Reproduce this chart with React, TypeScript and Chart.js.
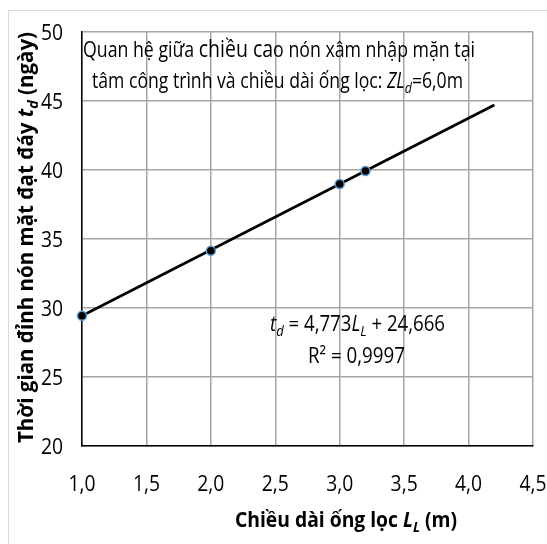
import React, { useEffect, useRef } from 'react';
import { Chart, registerables } from 'chart.js';

Chart.register(...registerables);

// Measured filter lengths L_L (m) and time to reach the bottom t_d (days)
const filterLengths = [1.0, 2.0, 3.0, 3.2];
const daysToBottom = [29.44, 34.14, 38.98, 39.93];

// Linear trend reported on the chart: t_d = 4,773 L_L + 24,666
const trendSlope = 4.773;
const trendIntercept = 24.666;
const trendFrom = 1.0;
const trendTo = 4.2;

// Axis ticks
const xTickValues = [1.0, 1.5, 2.0, 2.5, 3.0, 3.5, 4.0, 4.5];
const yTickValues = [20, 25, 30, 35, 40, 45, 50];

const FONT = '"Open Sans", Lato, sans-serif';
const BASE = 21;

type Run = { text: string; italic?: boolean; bold?: boolean; size?: number; shift?: number };

function runFont(r: Run) {
  return `${r.italic ? 'italic' : 'normal'} ${r.bold ? 'bold' : 'normal'} ${BASE * (r.size || 1)}px ${FONT}`;
}

function runsWidth(ctx: CanvasRenderingContext2D, runs: Run[]) {
  let w = 0;
  for (const r of runs) {
    ctx.font = runFont(r);
    w += ctx.measureText(r.text).width;
  }
  return w;
}

// Draws a line of mixed-style text; squeezed horizontally either by a fixed
// factor or so that it spans the given width.
function drawRuns(
  ctx: CanvasRenderingContext2D,
  runs: Run[],
  x: number,
  y: number,
  opts: { width?: number; squeeze?: number; align?: 'left' | 'center' | 'right' }
) {
  const w = runsWidth(ctx, runs);
  const k = opts.width ? opts.width / w : opts.squeeze || 1;
  const total = w * k;
  let left = x;
  if (opts.align === 'center') left = x - total / 2;
  if (opts.align === 'right') left = x - total;
  ctx.save();
  ctx.translate(left, y);
  ctx.scale(k, 1);
  ctx.textBaseline = 'alphabetic';
  ctx.textAlign = 'left';
  ctx.fillStyle = '#000';
  let cx = 0;
  for (const r of runs) {
    ctx.font = runFont(r);
    ctx.fillText(r.text, cx, r.shift || 0);
    cx += ctx.measureText(r.text).width;
  }
  ctx.restore();
}

const SUB = 0.7;
const SUB_SHIFT = 5;

const titleLine1: Run[] = [
  { text: 'Quan hệ giữa ' },
  { text: 'chiều ca', size: 1.1 },
  { text: 'o nón xâm nhập mặn tại' },
];
const titleLine2: Run[] = [
  { text: 'tâm công trình và chiều dài ống lọc: ' },
  { text: 'ZL', italic: true },
  { text: 'd', italic: true, size: SUB, shift: SUB_SHIFT },
  { text: '=6,0m' },
];
const equationLine: Run[] = [
  { text: 't', italic: true },
  { text: 'd', italic: true, size: SUB, shift: SUB_SHIFT },
  { text: ' = 4,773' },
  { text: 'L', italic: true },
  { text: 'L', italic: true, size: SUB, shift: SUB_SHIFT },
  { text: ' + 24,666' },
];
const r2Line: Run[] = [{ text: 'R² = 0,9997' }];
const xTitle: Run[] = [
  { text: 'Chiều dài ống lọc ', bold: true },
  { text: 'L', bold: true, italic: true },
  { text: 'L', bold: true, italic: true, size: SUB, shift: SUB_SHIFT },
  { text: ' (m)', bold: true },
];
const yTitle: Run[] = [
  { text: 'Thời gian đỉnh nón mặt đạt đáy ', bold: true },
  { text: 't', bold: true, italic: true },
  { text: 'd', bold: true, italic: true, size: SUB, shift: SUB_SHIFT },
  { text: ' (ngày)', bold: true },
];

const framePlugin = {
  id: 'frame',
  beforeDraw(chart: any) {
    const ctx = chart.ctx as CanvasRenderingContext2D;
    ctx.save();
    ctx.fillStyle = '#fff';
    ctx.fillRect(0, 0, chart.width, chart.height);
    ctx.strokeStyle = '#d9d9d9';
    ctx.lineWidth = 1;
    ctx.beginPath();
    ctx.moveTo(8.5, chart.height);
    ctx.lineTo(8.5, 10.5);
    ctx.lineTo(chart.width, 10.5);
    ctx.stroke();
    ctx.restore();
  },
};

const textPlugin = {
  id: 'texts',
  afterDraw(chart: any) {
    const ctx = chart.ctx as CanvasRenderingContext2D;
    const xs = chart.scales.x;
    const ys = chart.scales.y;
    for (const t of ys.ticks) {
      const py = ys.getPixelForValue(t.value);
      drawRuns(ctx, [{ text: String(t.value) }], 63, py + 8, { squeeze: 0.92, align: 'right' });
    }
    for (const t of xs.ticks) {
      const px = xs.getPixelForValue(t.value);
      const label = t.value.toFixed(1).replace('.', ',');
      drawRuns(ctx, [{ text: label }], px, 491, { squeeze: 0.92, align: 'center' });
    }
    drawRuns(ctx, titleLine1, 83, 57, { width: 392 });
    drawRuns(ctx, titleLine2, 92, 88, { width: 371 });
    drawRuns(ctx, equationLine, 270, 331, { width: 175 });
    drawRuns(ctx, r2Line, 308, 363, { width: 97 });
    drawRuns(ctx, xTitle, 235, 527, { width: 222 });
    ctx.save();
    ctx.translate(33, 443);
    ctx.rotate(-Math.PI / 2);
    drawRuns(ctx, yTitle, 0, 0, { width: 411 });
    ctx.restore();
  },
};

export default function App() {
  const canvasRef = useRef<HTMLCanvasElement | null>(null);

  useEffect(() => {
    const canvas = canvasRef.current;
    if (!canvas) return;

    const points = filterLengths.map((x, i) => ({ x, y: daysToBottom[i] }));
    const trend = [trendFrom, trendTo].map((x) => ({ x, y: trendSlope * x + trendIntercept }));

    const chart = new Chart(canvas, {
      type: 'scatter',
      data: {
        datasets: [
          {
            label: 'Số liệu',
            data: points,
            pointRadius: 4.5,
            pointBackgroundColor: '#000',
            pointBorderColor: '#5b9bd5',
            pointBorderWidth: 1.5,
            showLine: false,
            clip: false,
          },
          {
            label: 'Xu hướng',
            data: trend,
            showLine: true,
            borderColor: '#000',
            borderWidth: 2.75,
            pointRadius: 0,
          },
        ],
      },
      options: {
        responsive: false,
        animation: false,
        devicePixelRatio: 1,
        layout: { padding: { top: 32, right: 14, left: 0, bottom: 0 } },
        plugins: { legend: { display: false }, tooltip: { enabled: false } },
        scales: {
          x: {
            type: 'linear',
            min: 1,
            max: 4.5,
            afterBuildTicks: (s: any) => {
              s.ticks = xTickValues.map((v) => ({ value: v }));
            },
            afterFit: (s: any) => {
              s.height = 98;
            },
            ticks: { display: false },
            grid: { color: '#a6a6a6', lineWidth: 1.5, drawTicks: false },
            border: { color: '#000', width: 1.5 },
          },
          y: {
            type: 'linear',
            min: 20,
            max: 50,
            afterBuildTicks: (s: any) => {
              s.ticks = yTickValues.map((v) => ({ value: v }));
            },
            afterFit: (s: any) => {
              s.width = 82;
            },
            ticks: { display: false },
            grid: { color: '#a6a6a6', lineWidth: 1.5, drawTicks: false },
            border: { color: '#000', width: 1.5 },
          },
        },
      },
      plugins: [framePlugin, textPlugin],
    });

    return () => chart.destroy();
  }, []);

  return (
    <canvas
      ref={canvasRef}
      width={547}
      height={544}
      style={{ position: 'fixed', left: 0, top: 0, width: 547, height: 544 }}
    />
  );
}
